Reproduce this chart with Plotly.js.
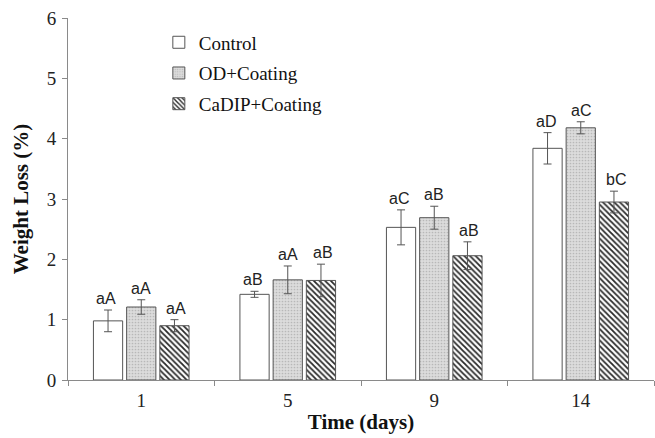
<!DOCTYPE html>
<html>
<head>
<meta charset="utf-8">
<script src="https://cdn.plot.ly/plotly-3.0.1.min.js"></script>
<style>html,body{margin:0;padding:0;background:#fff;}#chart{width:655px;height:438px;}</style>
</head>
<body>
<div id="chart"></div>
<script>
const days = ['1', '5', '9', '14'];
const seriesNames = ['Control', 'OD+Coating', 'CaDIP+Coating'];
const controlVals = [0.98, 1.42, 2.53, 3.84];
const controlErr  = [0.18, 0.05, 0.29, 0.26];
const odVals      = [1.21, 1.66, 2.69, 4.18];
const odErr       = [0.12, 0.23, 0.19, 0.10];
const cadipVals   = [0.90, 1.65, 2.06, 2.95];
const cadipErr    = [0.10, 0.27, 0.23, 0.18];
const controlLabels = ['aA', 'aB', 'aC', 'aD'];
const odLabels      = ['aA', 'aA', 'aB', 'aC'];
const cadipLabels   = ['aA', 'aB', 'aB', 'bC'];
const yTicks = [0, 1, 2, 3, 4, 5, 6];

const serif = 'Liberation Serif, Times New Roman, serif';
const sans = 'Liberation Sans, Arial, sans-serif';
const edge = '#555555';

function errBar(arr) {
  return {type: 'data', array: arr, visible: true, color: '#555', thickness: 1, width: 4};
}

const traces = [
  {type: 'bar', name: seriesNames[0], x: days, y: controlVals, error_y: errBar(controlErr),
   legendgroup: 'g1',
   marker: {color: '#ffffff', line: {color: edge, width: 1}}},
  {type: 'bar', name: seriesNames[1], x: days, y: odVals, error_y: errBar(odErr),
   legendgroup: 'g2',
   marker: {color: '#d9d9d9', line: {color: edge, width: 1},
            pattern: {shape: '.', bgcolor: '#dcdcdc', fgcolor: '#b8b8b8', size: 3, solidity: 0.25}}},
  {type: 'bar', name: seriesNames[2], x: days, y: cadipVals, error_y: errBar(cadipErr),
   legendgroup: 'g3',
   marker: {color: '#ffffff', line: {color: edge, width: 1},
            pattern: {shape: '\\', bgcolor: '#ffffff', fgcolor: '#2a2a2a', size: 4, solidity: 0.45}}}
];

const groups = [
  {vals: controlVals, err: controlErr, labels: controlLabels, shift: -35},
  {vals: odVals, err: odErr, labels: odLabels, shift: 0},
  {vals: cadipVals, err: cadipErr, labels: cadipLabels, shift: 35}
];
const annotations = [];
groups.forEach(g => {
  days.forEach((d, i) => {
    annotations.push({
      x: i, y: g.vals[i] + g.err[i], xref: 'x', yref: 'y',
      text: g.labels[i], showarrow: false, xshift: g.shift, yshift: 1,
      yanchor: 'bottom', xanchor: 'center',
      font: {family: sans, size: 16, color: '#222'}
    });
  });
});

const layout = {
  width: 655, height: 438,
  margin: {l: 68, r: 1, t: 18, b: 58},
  paper_bgcolor: '#ffffff', plot_bgcolor: '#ffffff',
  barmode: 'group', bargap: 0.32, bargroupgap: 0.12,
  showlegend: true,
  legend: {x: 0.155, y: 0.985, xanchor: 'left', yanchor: 'top',
           traceorder: 'grouped', tracegroupgap: 3,
           bgcolor: 'rgba(0,0,0,0)',
           font: {family: serif, size: 19, color: '#111'},
           itemwidth: 30},
  xaxis: {type: 'category', range: [-0.5, 3.5], autorange: false,
          showline: true, linecolor: '#8a8a8a', linewidth: 1,
          ticks: 'outside', tickson: 'boundaries', ticklen: 5, tickcolor: '#8a8a8a',
          showgrid: false, zeroline: false, ticklabelstandoff: 3,
          tickfont: {family: serif, size: 19, color: '#222'},
          title: {text: '<b>Time (days)</b>', font: {family: serif, size: 21, color: '#111'}, standoff: 4}},
  yaxis: {range: [0, 6], autorange: false, tickvals: yTicks, showline: true, linecolor: '#8a8a8a', linewidth: 1,
          ticks: 'outside', ticklen: 5, tickcolor: '#8a8a8a',
          showgrid: false, zeroline: false, ticklabelstandoff: 2,
          tickfont: {family: serif, size: 19, color: '#222'},
          title: {text: '<b>Weight Loss (%)</b>', font: {family: serif, size: 21, color: '#111'}, standoff: 12}},
  annotations: annotations
};

Plotly.newPlot('chart', traces, layout, {displayModeBar: false, staticPlot: true});
</script>
</body>
</html>
